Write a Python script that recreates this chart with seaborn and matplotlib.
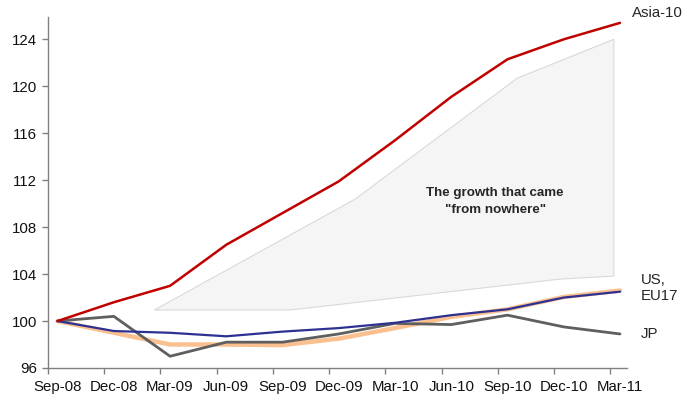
import matplotlib
matplotlib.use("Agg")
import matplotlib.pyplot as plt
import numpy as np
import pandas as pd
import seaborn as sns

quarters = ["Sep-08", "Dec-08", "Mar-09", "Jun-09", "Sep-09", "Dec-09",
            "Mar-10", "Jun-10", "Sep-10", "Dec-10", "Mar-11"]

asia = [100, 101.6, 103.0, 106.5, 109.2, 111.9, 115.4, 119.1, 122.3, 124.0, 125.4]
us = [100, 99.15, 99.0, 98.7, 99.1, 99.4, 99.85, 100.5, 101.0, 102.0, 102.5]
eu17 = [100, 99.0, 98.0, 98.0, 97.95, 98.5, 99.4, 100.35, 101.0, 102.05, 102.6]
jp = [100, 100.4, 97.0, 98.2, 98.2, 98.9, 99.8, 99.7, 100.5, 99.5, 98.9]

# shaded "growth from nowhere" wedge (quarter index, index level)
wedge_x = [1.72, 4.14, 8.93, 9.89, 9.89, 8.17, 5.29]
wedge_y = [100.94, 100.94, 103.57, 103.83, 124.0, 120.68, 110.38]

series = {"EU17": eu17, "JP": jp, "US": us, "Asia-10": asia}
colors = {"EU17": "#FAC090", "JP": "#5F5F5F", "US": "#2E3192", "Asia-10": "#C00000"}
widths = {"EU17": 3.2, "JP": 2.0, "US": 1.6, "Asia-10": 1.8}

rows = []
for name, vals in series.items():
    for i, v in enumerate(vals):
        rows.append({"q": i, "value": v, "series": name})
df = pd.DataFrame(rows)

sns.set_style("white")
plt.rcParams["font.family"] = ["Liberation Sans", "DejaVu Sans"]

fig = plt.figure(figsize=(6.82, 4.01), dpi=100)
ax = fig.add_axes([0.0704, 0.0823, 0.8486, 0.8753])

ax.fill(wedge_x, wedge_y, facecolor="#F5F5F5", edgecolor="#D9D9D9", linewidth=0.8, zorder=1)

sns.lineplot(data=df, x="q", y="value", hue="series", size="series",
             hue_order=list(series.keys()), size_order=list(series.keys()),
             palette=colors, sizes=widths, legend=False, ax=ax, zorder=3)

ax.set_xlim(-0.16, 10.12)
ax.set_ylim(96, 125.9)
ax.set_yticks(np.arange(96, 125, 4))
ax.set_xticks(range(len(quarters)))
ax.set_xticklabels(quarters)
ax.set_xticks([i - 0.17 for i in range(len(quarters))], minor=True)
ax.tick_params(axis="x", which="major", length=0, labelsize=10.8, pad=9, colors="#111111")
ax.tick_params(axis="x", which="minor", length=4, width=1, color="#808080", direction="out", bottom=True)
ax.tick_params(axis="y", length=4, width=1, color="#808080", direction="out", left=True,
               labelsize=10.8, labelcolor="#111111", pad=4)
ax.set_xlabel("")
ax.set_ylabel("")
for s in ["top", "right"]:
    ax.spines[s].set_visible(False)
for s in ["left", "bottom"]:
    ax.spines[s].set_color("#808080")
    ax.spines[s].set_linewidth(1)

ax.text(7.78, 110.2, "The growth that came\n\"from nowhere\"", ha="center", va="center",
        fontsize=9.6, fontweight="bold", linespacing=1.55)
ax.text(10.22, 126.2, "Asia-10", fontsize=10.8, va="center", ha="left", clip_on=False)
ax.text(10.37, 102.8, "US,\nEU17", fontsize=10.8, va="center", ha="left", clip_on=False, linespacing=1.15)
ax.text(10.37, 98.9, "JP", fontsize=10.8, va="center", ha="left", clip_on=False)

fig.savefig("out.png", dpi=100)
